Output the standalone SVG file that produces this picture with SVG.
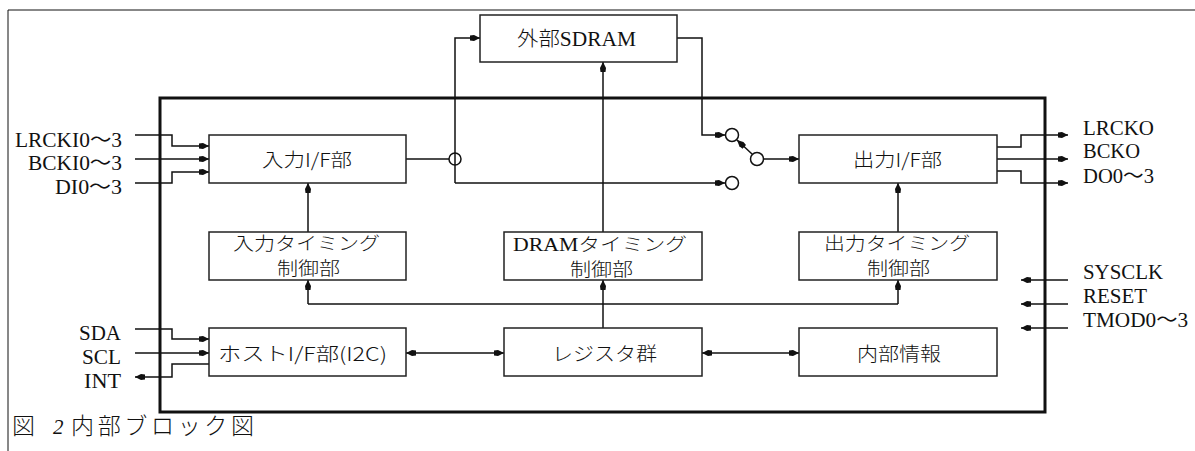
<svg xmlns="http://www.w3.org/2000/svg" width="1195" height="451" viewBox="0 0 1195 451">
<style>
.box{fill:#fff;stroke:#222;stroke-width:1.5}
.ln{fill:none;stroke:#111;stroke-width:1.5}
.circ{fill:#fff;stroke:#111;stroke-width:1.5}
.jp{font-family:"Noto Sans CJK JP",sans-serif;font-size:19px;font-weight:300;fill:#111}
.tm{font-family:"Noto Sans CJK JP",sans-serif;font-size:18px;font-weight:300;fill:#111}
.lat{font-family:"Liberation Serif","Noto Sans CJK JP",serif;font-size:20px;fill:#111}
.ser{font-family:"Liberation Serif","Noto Sans CJK JP",serif;font-weight:normal}
</style>
<defs>
<marker id="ah" markerUnits="userSpaceOnUse" markerWidth="10" markerHeight="7" refX="10" refY="3.5" orient="auto-start-reverse">
<path d="M0,1 L4,0.5 L10,3.5 L4,6.5 L0,6 z" fill="#111"/>
</marker>
</defs>
<rect width="1195" height="451" fill="#fff"/>
<!-- page frame -->
<path d="M8,451 V10 H1195" fill="none" stroke="#111" stroke-width="1"/>
<!-- chip outline -->
<rect id="chip" x="160" y="98" width="885" height="314" fill="none" stroke="#111" stroke-width="3"/>

<g id="connectors">
<path class="ln" d="M135,135 H172 V146 H209" marker-end="url(#ah)"/>
<path class="ln" d="M135,159 H209" marker-end="url(#ah)"/>
<path class="ln" d="M135,183 H172 V172 H209" marker-end="url(#ah)"/>
<path class="ln" d="M135,329 H172 V339 H209" marker-end="url(#ah)"/>
<path class="ln" d="M135,353 H209" marker-end="url(#ah)"/>
<path class="ln" d="M209,364 H172 V377 H135" marker-end="url(#ah)"/>
<path class="ln" d="M997,147 H1021 V135 H1068" marker-end="url(#ah)"/>
<path class="ln" d="M997,159 H1068" marker-end="url(#ah)"/>
<path class="ln" d="M997,171 H1021 V183 H1068" marker-end="url(#ah)"/>
<path class="ln" d="M1068,280 H1021" marker-end="url(#ah)"/>
<path class="ln" d="M1068,304 H1021" marker-end="url(#ah)"/>
<path class="ln" d="M1068,328 H1021" marker-end="url(#ah)"/>
<path class="ln" d="M406,159 H449"/>
<path class="ln" d="M455,183 V38 H480" marker-end="url(#ah)"/>
<path class="ln" d="M455,183 H725" marker-end="url(#ah)"/>
<circle cx="455" cy="159" r="6" fill="none" stroke="#111" stroke-width="1.5"/>
<path class="ln" d="M677,38 H702 V135 H725" marker-end="url(#ah)"/>
<circle class="circ" cx="732" cy="135" r="6.5"/>
<circle class="circ" cx="732" cy="183" r="6.5"/>
<circle class="circ" cx="757" cy="159" r="6.5"/>
<path class="ln" d="M752,154 L737,140" marker-end="url(#ah)"/>
<path class="ln" d="M763.5,159 H799" marker-end="url(#ah)"/>
<path class="ln" d="M603,232 V62" marker-end="url(#ah)"/>
<path class="ln" d="M308,232 V183" marker-end="url(#ah)"/>
<path class="ln" d="M898,232 V183" marker-end="url(#ah)"/>
<path class="ln" d="M603,328 V280" marker-end="url(#ah)"/>
<path class="ln" d="M308,304 H898"/>
<path class="ln" d="M308,304 V280" marker-end="url(#ah)"/>
<path class="ln" d="M898,304 V280" marker-end="url(#ah)"/>
<path class="ln" d="M406,353 H504" marker-start="url(#ah)" marker-end="url(#ah)"/>
<path class="ln" d="M702,353 H799" marker-start="url(#ah)" marker-end="url(#ah)"/>
</g>

<g id="sdram">
<rect class="box" x="480" y="15" width="197" height="47"/>
<text class="jp" x="576.5" y="46" text-anchor="middle" textLength="119" lengthAdjust="spacingAndGlyphs" style="font-size:20px">外部<tspan class="ser">SDRAM</tspan></text>
</g>
<g id="in-if">
<rect class="box" x="209" y="135" width="197" height="48"/>
<text class="jp" x="307" y="167" text-anchor="middle" textLength="90" lengthAdjust="spacingAndGlyphs">入力I/F部</text>
</g>
<g id="out-if">
<rect class="box" x="799" y="135" width="198" height="48"/>
<text class="jp" x="897.5" y="167" text-anchor="middle" textLength="89" lengthAdjust="spacingAndGlyphs">出力I/F部</text>
</g>
<g id="in-timing">
<rect class="box" x="209" y="232" width="197" height="48"/>
<text class="tm" x="306.5" y="250" text-anchor="middle" textLength="147" lengthAdjust="spacingAndGlyphs">入力タイミング</text>
<text class="tm" x="308.5" y="275" text-anchor="middle" textLength="63" lengthAdjust="spacingAndGlyphs">制御部</text>
</g>
<g id="dram-timing">
<rect class="box" x="504" y="232" width="198" height="48"/>
<text class="tm" x="600" y="251" text-anchor="middle" textLength="174" lengthAdjust="spacingAndGlyphs"><tspan class="ser">DRAM</tspan>タイミング</text>
<text class="tm" x="601.5" y="276" text-anchor="middle" textLength="63" lengthAdjust="spacingAndGlyphs">制御部</text>
</g>
<g id="out-timing">
<rect class="box" x="799" y="232" width="198" height="48"/>
<text class="tm" x="897" y="250" text-anchor="middle" textLength="146" lengthAdjust="spacingAndGlyphs">出力タイミング</text>
<text class="tm" x="898.5" y="275" text-anchor="middle" textLength="63" lengthAdjust="spacingAndGlyphs">制御部</text>
</g>
<g id="host-if">
<rect class="box" x="209" y="328" width="197" height="48"/>
<text class="jp" x="302.5" y="361" text-anchor="middle" textLength="169" lengthAdjust="spacingAndGlyphs">ホストI/F部(I2C)</text>
</g>
<g id="registers">
<rect class="box" x="504" y="328" width="198" height="48"/>
<text class="jp" x="604.5" y="361" text-anchor="middle" textLength="105" lengthAdjust="spacingAndGlyphs">レジスタ群</text>
</g>
<g id="internal-info">
<rect class="box" x="799" y="328" width="198" height="48"/>
<text class="jp" x="899" y="361" text-anchor="middle" textLength="84" lengthAdjust="spacingAndGlyphs">内部情報</text>
</g>

<g id="labels">
<text class="lat" x="122" y="147" text-anchor="end" textLength="107" lengthAdjust="spacingAndGlyphs">LRCKI0〜3</text>
<text class="lat" x="122" y="170" text-anchor="end" textLength="94" lengthAdjust="spacingAndGlyphs">BCKI0〜3</text>
<text class="lat" x="122" y="194" text-anchor="end" textLength="67" lengthAdjust="spacingAndGlyphs">DI0〜3</text>
<text class="lat" x="121" y="340" text-anchor="end" textLength="42" lengthAdjust="spacingAndGlyphs">SDA</text>
<text class="lat" x="121" y="364" text-anchor="end" textLength="39" lengthAdjust="spacingAndGlyphs">SCL</text>
<text class="lat" x="121" y="388" text-anchor="end" textLength="37" lengthAdjust="spacingAndGlyphs">INT</text>
<text class="lat" x="1083" y="135" textLength="71" lengthAdjust="spacingAndGlyphs">LRCKO</text>
<text class="lat" x="1083" y="158" textLength="57" lengthAdjust="spacingAndGlyphs">BCKO</text>
<text class="lat" x="1083" y="183" textLength="71" lengthAdjust="spacingAndGlyphs">DO0〜3</text>
<text class="lat" x="1083" y="279" textLength="80" lengthAdjust="spacingAndGlyphs">SYSCLK</text>
<text class="lat" x="1083" y="303" textLength="64" lengthAdjust="spacingAndGlyphs">RESET</text>
<text class="lat" x="1083" y="327" textLength="105" lengthAdjust="spacingAndGlyphs">TMOD0〜3</text>
</g>

<g id="caption">
<text class="jp" x="12" y="434" style="font-size:23px">図</text>
<text class="ser" x="53" y="434" style="font-size:21px;font-style:italic" fill="#111">2</text>
<text class="jp" x="71" y="434" style="font-size:23px" textLength="183" lengthAdjust="spacing">内部ブロック図</text>
</g>
</svg>
